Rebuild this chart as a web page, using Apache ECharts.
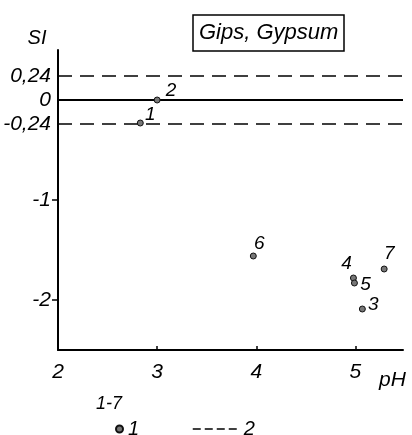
<!DOCTYPE html>
<html>
<head>
<meta charset="utf-8">
<script src="https://cdn.jsdelivr.net/npm/echarts@6/dist/echarts.min.js"></script>
<style>
  html, body { margin: 0; padding: 0; background: #fff; }
  #si-chart { width: 412px; height: 435px; }
</style>
</head>
<body>
<div id="si-chart"></div>
<script>
// saturation index of gypsum vs pH, samples 1-7
const phVals = [2.83, 3.0, 5.07, 4.98, 4.99, 3.97, 5.29]
const siVals = [-0.23, 0.0, -2.09, -1.78, -1.83, -1.56, -1.69]
const pointLabels = ['1', '2', '3', '4', '5', '6', '7']
const yTickLabels = [0.24, 0, -0.24, -1, -2]
const yTickMarks = [-1, -2]
const xTickLabels = [2, 3, 4, 5]
const limitLines = [0.24, -0.24]
const zeroLine = [0]

const _font = '"Liberation Sans", "DejaVu Sans", sans-serif'
// where each point number sits relative to its dot
const labelOffset = {
  '1': [10, -8], '2': [14, -9], '3': [11, -4], '4': [-7, -14],
  '5': [11, 2], '6': [6, -12], '7': [5, -15]
}

const chart = echarts.init(document.getElementById('si-chart'))
const option = {
  animation: false,
  title: {
    text: 'Gips, Gypsum',
    left: 193,
    top: 15,
    borderColor: '#000',
    borderWidth: 1.5,
    padding: [7, 6, 7, 6],
    textStyle: { fontFamily: _font, fontStyle: 'italic', fontWeight: 'normal', fontSize: 22, color: '#000' }
  },
  grid: { left: 58, right: 9, top: 50, bottom: 85 },
  legend: [
    {
      data: [{ name: '1', icon: 'circle' }],
      left: 110, top: 414,
      itemWidth: 7, itemHeight: 7, itemGap: 0,
      textStyle: { fontFamily: _font, fontStyle: 'italic', fontSize: 20, color: '#000' }
    },
    {
      data: ['2'],
      left: 187, top: 414,
      itemWidth: 46, itemHeight: 14,
      itemStyle: { color: 'transparent', borderWidth: 0 },
      lineStyle: { type: [8, 4], width: 1.5, color: '#000' },
      textStyle: { fontFamily: _font, fontStyle: 'italic', fontSize: 20, color: '#000' }
    }
  ],
  graphic: [
    {
      type: 'text', left: 96, top: 395,
      style: { text: '1-7', font: 'italic 18px ' + _font, fill: '#000' }
    }
  ],
  xAxis: {
    type: 'value',
    min: 2,
    max: 5.48,
    interval: 1,
    name: 'pH',
    nameLocation: 'end',
    nameGap: -24,
    nameTextStyle: { fontFamily: _font, fontStyle: 'italic', fontSize: 21, color: '#000', verticalAlign: 'top', padding: [20, 0, 0, 0] },
    splitLine: { show: false },
    axisLine: { onZero: false, lineStyle: { color: '#000', width: 2 } },
    axisTick: { inside: true, length: 4, lineStyle: { color: '#000', width: 1.5 }, customValues: xTickLabels },
    axisLabel: {
      customValues: xTickLabels,
      margin: 12,
      fontFamily: _font, fontStyle: 'italic', fontSize: 21, color: '#000'
    }
  },
  yAxis: {
    type: 'value',
    min: -2.5,
    max: 0.5,
    name: 'SI',
    nameLocation: 'end',
    nameGap: 2,
    nameTextStyle: { fontFamily: _font, fontStyle: 'italic', fontSize: 20, color: '#000', padding: [0, 42, 0, 0] },
    splitLine: { show: false },
    axisLine: { onZero: false, lineStyle: { color: '#000', width: 2 } },
    axisTick: { length: 6, lineStyle: { color: '#000', width: 1.5 }, customValues: yTickMarks },
    axisLabel: {
      customValues: yTickLabels,
      margin: 7,
      fontFamily: _font, fontStyle: 'italic', fontSize: 21, color: '#000',
      formatter: (v) => String(v).replace('.', ',')
    }
  },
  series: [
    {
      name: '1',
      type: 'scatter',
      symbolSize: 6,
      itemStyle: { color: '#777', borderColor: '#111', borderWidth: 1, opacity: 1 },
      data: phVals.map((x, i) => ({
        value: [x, siVals[i]],
        label: {
          show: true,
          formatter: pointLabels[i],
          position: 'inside',
          offset: labelOffset[pointLabels[i]],
          fontFamily: _font, fontStyle: 'italic', fontSize: 19, color: '#000'
        }
      })),
      markLine: {
        silent: true,
        symbol: 'none',
        label: { show: false },
        lineStyle: { type: 'solid', color: '#000', width: 2 },
        data: zeroLine.map(v => ({ yAxis: v }))
      },
      z: 5
    },
    {
      name: '2',
      type: 'line',
      symbol: 'none',
      lineStyle: { type: [14, 8], color: '#000', width: 1.5 },
      itemStyle: { color: '#000' },
      data: [],
      markLine: {
        silent: true,
        symbol: 'none',
        label: { show: false },
        lineStyle: { type: [14, 8], color: '#000', width: 1.5 },
        data: limitLines.map(v => ({ yAxis: v }))
      }
    }
  ]
}
chart.setOption(option)
</script>
</body>
</html>
